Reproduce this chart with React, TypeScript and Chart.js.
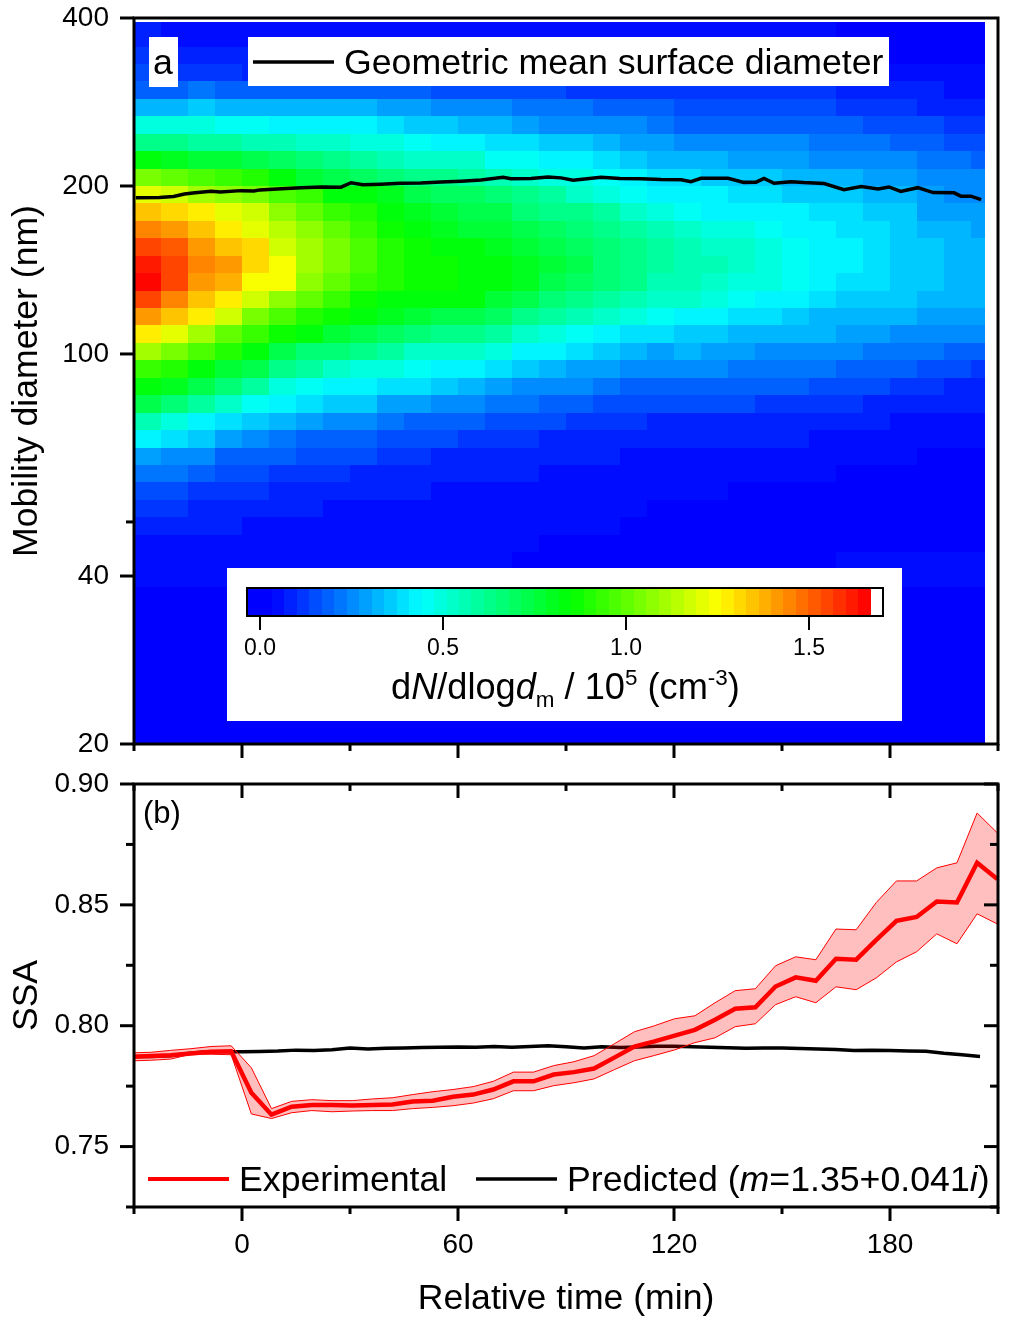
import React, { useEffect, useRef } from "react";
import { Chart, registerables } from "chart.js";

Chart.register(...registerables);

const FONT = "'Liberation Sans', Arial, sans-serif";

// ---------- panel a: size distribution ----------
const timeEdges = [-30, -22.5, -15, -7.5, 0, 7.5, 15, 22.5, 30, 37.5, 45, 52.5, 60, 67.5, 75, 82.5, 90, 97.5, 105, 112.5, 120, 127.5, 135, 142.5, 150, 157.5, 165, 172.5, 180, 187.5, 195, 202.5, 206.4];
const diameterEdges = [394, 355.6, 331, 308, 286.6, 266.7, 248.2, 231, 214.9, 200, 186.2, 173.2, 161.2, 150, 139.6, 129.9, 120.9, 112.5, 104.7, 97.4, 90.64, 84.35, 78.49, 73.04, 67.97, 63.25, 58.86, 54.77, 50.97, 47.43, 44.14, 41.07, 38.22, 35.57, 33.1, 30.8, 28.66, 26.67, 24.82, 23.1, 21.49, 20];
// dN/dlogdm in units of 10^3 cm^-3, rows from the largest diameter down
const heatRows = [
  [7,6,5,5,5,5,5,5,5,5,5,5,5,5,5,4,4,4,4,4,4,4,4,4,4,4,3,3,3,3,3,3],
  [12,10,9,8,7,7,6,6,6,6,6,6,6,5,5,5,5,5,5,5,5,5,5,5,4,4,4,3,3,3,3,3],
  [15,13,12,11,10,10,9,10,9,9,9,9,9,9,9,8,8,8,8,8,7,7,7,7,7,7,6,6,5,5,4,4],
  [19,20,21,20,19,19,18,17,17,17,17,16,15,15,14,14,13,13,13,13,12,12,12,12,11,11,10,9,8,7,6,6],
  [32,33,34,33,33,33,32,32,31,30,28,26,25,24,23,22,21,20,18,17,16,15,15,15,14,14,13,12,11,10,9,9],
  [50,49,48,46,45,44,43,42,42,40,37,35,32,31,29,27,26,25,24,22,20,20,19,19,18,18,17,16,15,14,13,13],
  [62,62,60,58,57,55,52,51,50,48,45,44,42,40,38,36,34,33,30,28,27,26,25,24,24,23,22,21,20,18,16,15],
  [82,80,78,75,72,69,65,62,60,57,54,53,51,47,45,43,42,40,36,33,32,31,30,29,28,27,26,26,24,22,21,20],
  [104,102,98,94,90,84,78,73,70,67,64,63,60,57,54,50,48,46,42,40,38,36,35,34,33,32,31,30,28,26,25,24],
  [122,118,112,108,104,98,92,85,82,79,74,71,69,66,62,58,54,50,47,44,42,41,40,39,37,36,35,33,31,28,27,26],
  [136,130,126,122,116,108,100,94,90,85,80,76,74,72,68,64,62,58,54,50,46,44,44,43,41,40,38,36,34,30,29,28],
  [145,140,136,128,122,114,106,100,94,88,84,80,78,76,74,70,66,63,60,56,52,50,48,46,44,42,40,38,36,32,31,30],
  [155,150,140,134,130,118,110,105,96,90,86,84,82,80,78,74,70,66,62,58,55,54,52,48,45,43,41,39,37,34,32,31],
  [162,155,146,140,132,124,112,104,96,90,88,86,85,82,80,76,72,68,64,59,56,56,54,50,47,44,41,39,36,35,32,32],
  [164,156,142,138,125,124,108,100,94,90,88,86,84,82,80,74,70,66,62,56,55,54,50,48,46,42,39,38,36,35,33,33],
  [155,146,136,128,118,108,100,94,88,84,84,84,83,78,74,68,64,60,56,52,52,50,46,44,41,39,36,36,35,33,33,31],
  [140,135,128,118,105,98,90,86,82,80,78,74,72,70,64,60,56,52,48,45,44,42,39,38,36,33,33,31,31,30,28,28],
  [126,120,112,102,95,88,82,78,74,70,68,64,62,58,54,50,46,42,40,38,36,35,33,32,31,31,30,28,27,26,25,24],
  [112,105,98,90,82,74,68,66,62,58,54,52,52,48,44,42,38,36,32,30,31,30,28,27,26,26,24,23,22,21,20,19],
  [95,90,84,78,72,64,58,54,50,48,46,44,42,38,36,32,28,28,27,26,25,26,22,22,22,21,20,18,17,16,14,13],
  [85,80,72,66,58,50,46,44,42,40,38,36,33,30,27,25,24,22,20,19,20,19,19,18,17,16,15,14,13,12,10,9],
  [72,66,58,52,46,42,38,36,34,30,28,26,24,22,21,19,17,16,15,14,14,14,14,13,13,12,11,10,9,9,8,7],
  [56,48,44,40,34,32,28,26,24,22,20,18,17,16,15,14,13,12,11,10,10,10,10,9,9,8,7,7,6,6,5,5],
  [43,38,34,28,24,22,20,19,18,16,15,14,12,12,11,10,9,9,8,8,7,7,7,7,7,6,6,5,5,4,4,4],
  [30,27,24,20,19,18,16,14,14,12,11,10,9,9,9,8,7,7,6,6,6,6,6,5,5,4,4,4,4,3,3,3],
  [22,21,18,16,14,13,12,11,10,10,9,8,7,7,7,6,6,6,5,5,5,4,4,4,4,4,3,3,3,3,3,3],
  [16,15,13,11,11,10,9,9,8,7,7,6,6,5,5,5,5,4,4,4,4,4,3,3,3,3,3,3,3,3,3,3],
  [12,11,10,9,8,7,7,6,6,6,5,5,5,5,4,4,4,4,4,3,3,3,3,3,3,3,3,3,3,3,3,3],
  [8,8,7,7,6,6,5,5,5,5,4,4,4,4,4,4,4,4,3,3,3,3,3,3,3,3,3,3,3,3,3,3],
  [6,6,6,5,5,5,4,4,4,4,4,4,4,4,4,3,3,3,3,3,3,3,3,3,3,3,3,3,3,3,3,3],
  [5,5,4,4,4,4,4,4,4,4,4,4,4,4,3,3,3,3,3,3,3,3,3,3,3,3,4,4,5,5,5,5],
  [4,4,4,4,4,4,4,4,4,4,4,4,4,4,3,3,3,3,3,3,3,3,3,3,3,3,3,3,4,4,4,4],
  [3,3,3,3,3,3,3,3,3,3,3,3,3,3,3,3,3,3,3,3,3,3,3,3,3,3,3,3,3,3,3,3],
  [3,3,3,3,3,3,3,3,3,3,3,3,3,3,3,3,3,3,3,3,3,3,3,3,3,3,3,3,3,3,3,3],
  [3,3,3,3,3,3,3,3,3,3,3,3,3,3,3,3,3,3,3,3,3,3,3,3,3,3,3,3,3,3,3,3],
  [3,3,3,3,3,3,3,3,3,3,3,3,3,3,3,3,3,3,3,3,3,3,3,3,3,3,3,3,3,3,3,3],
  [3,3,3,3,3,3,3,3,3,3,3,3,3,3,3,3,3,3,3,3,3,3,3,3,3,3,3,3,3,3,3,3],
  [3,3,3,3,3,3,3,3,3,3,3,3,3,3,3,3,3,3,3,3,3,3,3,3,3,3,3,3,3,3,3,3],
  [3,3,3,3,3,3,3,3,3,3,3,3,3,3,3,3,3,3,3,3,3,3,3,3,3,3,3,3,3,3,3,3],
  [3,3,3,3,3,3,3,3,3,3,3,3,3,3,3,3,3,3,3,3,3,3,3,3,3,3,3,3,3,3,3,3],
  [3,3,3,3,3,3,3,3,3,3,3,3,3,3,3,3,3,3,3,3,3,3,3,3,3,3,3,3,3,3,3,3],
];

const gmdTime = [-29.5, -23, -19, -16, -13, -8.6, -6, -0.3, 3.3, 5, 11, 16.4, 22, 27.5, 30.3, 33.6, 38.6, 44, 49.7, 55.3, 60.8, 66.4, 72.5, 74.7, 80.3, 85, 88.6, 92, 99.7, 105, 110.8, 116.4, 122, 124.7, 127.5, 135, 139.4, 142.8, 145, 147.8, 152.5, 156, 161.7, 167.2, 172, 176.7, 179.7, 183, 187.7, 192, 197.8, 199.7, 202.5, 205.3];
const gmdDiameter = [190.5, 190.8, 191.5, 193.5, 194.5, 195.7, 195, 196.2, 196, 196.8, 197.8, 198.6, 199.2, 199, 202.7, 201, 201.5, 202.2, 202.5, 203.3, 204, 205, 207.4, 206, 206.3, 207.6, 206.8, 204.8, 207.4, 206.2, 206, 205.4, 205.2, 203.6, 206.5, 206.4, 203, 203.2, 206.4, 202.2, 203.6, 202.8, 202, 197, 199.6, 197.6, 199.2, 195.6, 198.6, 194.6, 194.4, 191.8, 191.8, 189];

const diameterTicks = [400, 200, 100, 50, 40, 20];
const diameterMinorTicks = [50];
const timeTicks = [-30, 0, 30, 60, 90, 120, 150, 180, 210];
const timeLabels = [0, 60, 120, 180];

const colorbarTicks = [0, 0.5, 1, 1.5];
const colorStopValues = [0.03, 0.44, 0.85, 1.25, 1.66];
const colorStopRgb = [[0, 0, 255], [0, 255, 255], [0, 255, 0], [255, 255, 0], [255, 0, 0]];

// ---------- panel b: SSA ----------
const expTime = [-30, -25.4, -19.8, -14.2, -8.6, -3, 2.6, 8.2, 13.8, 19.4, 25, 30.6, 36.2, 41.8, 47.4, 53, 58.6, 64.2, 69.8, 75.4, 81, 86.6, 92.2, 97.8, 103.4, 109, 114.6, 120.2, 125.8, 131.4, 137, 142.6, 148.2, 153.8, 159.4, 165, 170.6, 176.2, 181.8, 187.4, 193, 198.6, 204.2, 209.8];
const expMean = [0.7872, 0.7875, 0.7878, 0.7885, 0.7892, 0.7894, 0.7723, 0.7632, 0.7665, 0.7672, 0.7672, 0.767, 0.7672, 0.7674, 0.7686, 0.769, 0.7706, 0.7715, 0.7736, 0.777, 0.777, 0.7798, 0.7808, 0.7823, 0.7868, 0.7914, 0.7935, 0.7959, 0.7983, 0.8025, 0.807, 0.8076, 0.8162, 0.82, 0.8186, 0.8277, 0.8273, 0.8355, 0.8434, 0.845, 0.8514, 0.851, 0.8674, 0.8607];
const expUpper = [0.7888, 0.789, 0.7898, 0.7905, 0.7914, 0.7917, 0.7826, 0.7657, 0.7687, 0.7694, 0.769, 0.769, 0.7697, 0.7702, 0.7715, 0.7727, 0.7736, 0.7748, 0.777, 0.7808, 0.7808, 0.7835, 0.7851, 0.7876, 0.7925, 0.7975, 0.8, 0.8029, 0.8041, 0.8095, 0.8145, 0.8153, 0.8248, 0.8285, 0.8273, 0.84, 0.8397, 0.851, 0.8599, 0.8599, 0.8653, 0.8674, 0.888, 0.8798];
const expLower = [0.7855, 0.7857, 0.7862, 0.7882, 0.7882, 0.788, 0.7635, 0.7616, 0.764, 0.7649, 0.7644, 0.7647, 0.7649, 0.7649, 0.7657, 0.7662, 0.7669, 0.768, 0.7698, 0.7731, 0.7731, 0.7752, 0.7764, 0.778, 0.7818, 0.7855, 0.7877, 0.79, 0.793, 0.795, 0.7996, 0.8008, 0.8087, 0.812, 0.8095, 0.8161, 0.8149, 0.8198, 0.8264, 0.8306, 0.838, 0.8339, 0.8463, 0.8421];

const predTime = [-30, -25, -20, -15, -10, -5, 0, 5, 10, 15, 20, 25, 30, 35, 40, 45, 50, 55, 60, 65, 70, 75, 80, 85, 90, 95, 100, 105, 110, 115, 120, 125, 130, 135, 140, 145, 150, 155, 160, 165, 170, 175, 180, 185, 190, 195, 200, 205];
const predSSA = [0.7873, 0.7873, 0.7876, 0.7885, 0.7892, 0.7892, 0.7892, 0.7893, 0.7895, 0.7899, 0.7897, 0.7901, 0.7908, 0.7904, 0.7907, 0.7908, 0.791, 0.7911, 0.7912, 0.7911, 0.7914, 0.7911, 0.7914, 0.7917, 0.7913, 0.7908, 0.7913, 0.791, 0.7912, 0.7915, 0.7915, 0.7913, 0.7911, 0.7909, 0.7907, 0.7908, 0.7908, 0.7906, 0.7904, 0.7902, 0.7897, 0.7898, 0.7897, 0.7895, 0.7894, 0.7886, 0.788, 0.7873];

const ssaTicks = [0.9, 0.875, 0.85, 0.825, 0.8, 0.775, 0.75, 0.725];
const ssaLabels = [0.9, 0.85, 0.8, 0.75];

// ---------- helpers ----------
const LEVEL_START = -0.036;
const LEVEL_WIDTH = 0.0341;
const LEVEL_COUNT = 50;

function rampColor(v: number) {
  const s = colorStopValues;
  if (v <= s[0]) return `rgb(${colorStopRgb[0].join(",")})`;
  for (let i = 1; i < s.length; i++) {
    if (v <= s[i]) {
      const f = (v - s[i - 1]) / (s[i] - s[i - 1]);
      const a = colorStopRgb[i - 1];
      const b = colorStopRgb[i];
      return `rgb(${a.map((c, k) => Math.round(c + (b[k] - c) * f)).join(",")})`;
    }
  }
  return "rgb(255,0,0)";
}
function levelColor(v: number) {
  const k = Math.max(0, Math.min(LEVEL_COUNT - 1, Math.floor((v - LEVEL_START) / LEVEL_WIDTH)));
  return rampColor(LEVEL_START + (k + 0.5) * LEVEL_WIDTH);
}

type Run = { t: string; i?: boolean; s?: number; dy?: number };
function drawRuns(ctx: CanvasRenderingContext2D, x: number, y: number, size: number, runs: Run[]) {
  ctx.textAlign = "left";
  ctx.textBaseline = "alphabetic";
  ctx.fillStyle = "#000";
  for (const r of runs) {
    const sz = size * (r.s ?? 1);
    ctx.font = `${r.i ? "italic " : ""}${sz}px ${FONT}`;
    ctx.fillText(r.t, x, y + (r.dy ?? 0));
    x += ctx.measureText(r.t).width;
  }
}

function tickLine(ctx: CanvasRenderingContext2D, x1: number, y1: number, x2: number, y2: number, w = 3) {
  ctx.lineWidth = w;
  ctx.beginPath();
  ctx.moveTo(x1, y1);
  ctx.lineTo(x2, y2);
  ctx.stroke();
}

function frame(chart: any) {
  const { ctx, chartArea: a } = chart;
  ctx.save();
  ctx.strokeStyle = "#000";
  ctx.lineWidth = 3;
  ctx.lineJoin = "miter";
  ctx.strokeRect(a.left, a.top, a.right - a.left, a.bottom - a.top);
  ctx.restore();
}

const heatmapPlugin = {
  id: "heatmap",
  beforeDatasetsDraw(chart: any) {
    const { ctx, scales } = chart;
    heatRows.forEach((row, r) => {
      const yTop = Math.round(scales.y.getPixelForValue(diameterEdges[r]));
      const yBot = Math.round(scales.y.getPixelForValue(diameterEdges[r + 1]));
      row.forEach((v, c) => {
        const xL = Math.round(scales.x.getPixelForValue(timeEdges[c]));
        const xR = Math.round(scales.x.getPixelForValue(timeEdges[c + 1]));
        ctx.fillStyle = levelColor(v / 100);
        ctx.fillRect(xL, yTop, xR - xL, yBot - yTop);
      });
    });
  },
};

const panelAOverlay = {
  id: "panelAOverlay",
  afterDatasetsDraw(chart: any) {
    const { ctx, scales } = chart;
    ctx.save();
    ctx.fillStyle = "#fff";
    ctx.fillRect(149, 37, 29, 50);
    ctx.fillRect(248, 37, 641, 49);
    drawRuns(ctx, 153, 74, 35.7, [{ t: "a" }]);
    ctx.strokeStyle = "#000";
    tickLine(ctx, 253, 62, 334, 62, 3.5);
    drawRuns(ctx, 344, 74, 35.7, [{ t: "Geometric mean surface diameter" }]);

    // colour scale
    ctx.fillStyle = "#fff";
    ctx.fillRect(227, 568, 675, 153);
    const cx = (v: number) => 260 + v * 366;
    for (let k = 0; k < LEVEL_COUNT; k++) {
      const v0 = LEVEL_START + k * LEVEL_WIDTH;
      ctx.fillStyle = levelColor(v0 + LEVEL_WIDTH / 2);
      const xL = Math.round(cx(v0));
      ctx.fillRect(xL, 588, Math.round(cx(v0 + LEVEL_WIDTH)) - xL, 28);
    }
    ctx.strokeStyle = "#000";
    ctx.lineWidth = 2;
    ctx.strokeRect(247, 588, 636, 28);
    colorbarTicks.forEach((v) => {
      tickLine(ctx, cx(v), 616, cx(v), 630, 2);
      ctx.font = `23px ${FONT}`;
      ctx.fillStyle = "#000";
      ctx.textAlign = "center";
      ctx.textBaseline = "alphabetic";
      ctx.fillText(v.toFixed(1), cx(v), 655);
    });
    drawRuns(ctx, 391, 699, 36.2, [
      { t: "d" }, { t: "N", i: true }, { t: "/dlog" }, { t: "d", i: true },
      { t: "m", s: 0.62, dy: 8 }, { t: " / 10" }, { t: "5", s: 0.62, dy: -14 },
      { t: " (cm" }, { t: "-3", s: 0.62, dy: -14 }, { t: ")" },
    ]);

    // axis ticks
    ctx.strokeStyle = "#000";
    const a = chart.chartArea;
    diameterTicks.forEach((d) => {
      const y = scales.y.getPixelForValue(d);
      const minor = diameterMinorTicks.includes(d);
      tickLine(ctx, a.left - (minor ? 8 : 14), y, a.left, y);
    });
    timeTicks.forEach((t) => {
      const x = scales.x.getPixelForValue(t);
      const major = timeLabels.includes(t);
      tickLine(ctx, x, a.bottom, x, a.bottom + (major ? 14 : 7));
    });
    ctx.restore();
    frame(chart);
  },
};

const panelBOverlay = {
  id: "panelBOverlay",
  afterDatasetsDraw(chart: any) {
    const { ctx, scales, chartArea: a } = chart;
    const top = a.top;
    ctx.save();
    drawRuns(ctx, 143, top + 39, 31, [{ t: "(b)" }]);
    ctx.strokeStyle = "#f00";
    tickLine(ctx, 148, top + 395, 229, top + 395, 4);
    drawRuns(ctx, 239, top + 407, 35.7, [{ t: "Experimental" }]);
    ctx.strokeStyle = "#000";
    tickLine(ctx, 476, top + 395, 557, top + 395, 3.5);
    drawRuns(ctx, 567, top + 407, 35.7, [
      { t: "Predicted (" }, { t: "m", i: true }, { t: "=1.35+0.041" }, { t: "i", i: true }, { t: ")" },
    ]);
    ssaTicks.forEach((v) => {
      const y = scales.y.getPixelForValue(v);
      const major = ssaLabels.includes(v);
      const len = major ? 14 : 8;
      tickLine(ctx, a.left - len, y, a.left, y);
      tickLine(ctx, a.right - len, y, a.right, y);
    });
    timeTicks.forEach((t) => {
      const x = scales.x.getPixelForValue(t);
      const major = timeLabels.includes(t);
      const len = major ? 14 : 7;
      tickLine(ctx, x, a.bottom, x, a.bottom + len);
      tickLine(ctx, x, a.top, x, a.top + len);
    });
    ctx.restore();
    frame(chart);
  },
};

const pts = (xs: number[], ys: number[]) => xs.map((x, i) => ({ x, y: ys[i] }));
const setTicks = (vals: number[]) => (s: any) => {
  s.ticks = vals.map((value) => ({ value }));
};
const fixFit = (w: number | null, h: number | null) => (s: any) => {
  if (w !== null) s.width = w;
  if (h !== null) s.height = h;
  s.paddingTop = 0;
  s.paddingBottom = 0;
  s.paddingLeft = 0;
  s.paddingRight = 0;
};

export default function App() {
  const refA = useRef<HTMLCanvasElement>(null);
  const refB = useRef<HTMLCanvasElement>(null);

  useEffect(() => {
    const tickFont = { family: FONT, size: 28 };
    const titleFont = { family: FONT, size: 35.6 };
    const chartA = new Chart(refA.current!, {
      type: "scatter",
      data: {
        datasets: [
          {
            label: "Geometric mean surface diameter",
            data: pts(gmdTime, gmdDiameter),
            showLine: true,
            borderColor: "#000",
            borderWidth: 3.5,
            pointRadius: 0,
            tension: 0,
          },
        ],
      },
      options: {
        animation: false,
        responsive: false,
        devicePixelRatio: 1,
        layout: { padding: { top: 18, right: 14, left: 0, bottom: 0 } },
        plugins: { legend: { display: false }, tooltip: { enabled: false } },
        scales: {
          x: {
            type: "linear",
            min: -30,
            max: 210,
            grid: { display: false, drawTicks: false },
            border: { display: false },
            ticks: { display: false },
            afterBuildTicks: setTicks(timeTicks),
            afterFit: fixFit(null, 18),
          },
          y: {
            type: "logarithmic",
            min: 20,
            max: 400,
            grid: { display: false, drawTicks: false },
            border: { display: false },
            afterBuildTicks: setTicks(diameterTicks),
            afterFit: fixFit(134, null),
            ticks: {
              autoSkip: false,
              font: tickFont,
              color: "#000",
              padding: 25,
              callback: (v: any) => (diameterMinorTicks.includes(Number(v)) ? "" : String(v)),
            },
            title: {
              display: true,
              text: "Mobility diameter (nm)",
              font: titleFont,
              color: "#000",
              padding: { top: 6, bottom: 0 },
            },
          },
        },
      } as any,
      plugins: [heatmapPlugin, panelAOverlay],
    });

    const chartB = new Chart(refB.current!, {
      type: "scatter",
      data: {
        datasets: [
          {
            label: "Experimental",
            data: pts(expTime, expMean),
            showLine: true,
            borderColor: "#f00",
            borderWidth: 4.5,
            pointRadius: 0,
            tension: 0,
          },
          {
            label: "Upper",
            data: pts(expTime, expUpper),
            showLine: true,
            borderColor: "#f00",
            borderWidth: 1,
            pointRadius: 0,
            tension: 0,
            fill: "+1",
            backgroundColor: "rgba(255,0,0,0.25)",
          },
          {
            label: "Lower",
            data: pts(expTime, expLower),
            showLine: true,
            borderColor: "#f00",
            borderWidth: 1,
            pointRadius: 0,
            tension: 0,
          },
          {
            label: "Predicted (m=1.35+0.041i)",
            data: pts(predTime, predSSA),
            showLine: true,
            borderColor: "#000",
            borderWidth: 3.5,
            pointRadius: 0,
            tension: 0,
          },
        ],
      },
      options: {
        animation: false,
        responsive: false,
        devicePixelRatio: 1,
        layout: { padding: { top: 22, right: 14, left: 0, bottom: 0 } },
        plugins: { legend: { display: false }, tooltip: { enabled: false }, filler: { drawTime: "beforeDatasetDraw" } },
        scales: {
          x: {
            type: "linear",
            min: -30,
            max: 210,
            grid: { display: false, drawTicks: false },
            border: { display: false },
            afterBuildTicks: setTicks(timeTicks),
            afterFit: fixFit(null, 115),
            ticks: {
              autoSkip: false,
              maxRotation: 0,
              font: tickFont,
              color: "#000",
              padding: 21,
              callback: (v: any) => (timeLabels.includes(Number(v)) ? String(v) : ""),
            },
            title: {
              display: true,
              text: "Relative time (min)",
              font: titleFont,
              color: "#000",
              padding: { top: 0, bottom: 1 },
            },
          },
          y: {
            type: "linear",
            min: 0.725,
            max: 0.9,
            grid: { display: false, drawTicks: false },
            border: { display: false },
            afterBuildTicks: setTicks(ssaTicks),
            afterFit: fixFit(134, null),
            ticks: {
              autoSkip: false,
              font: tickFont,
              color: "#000",
              padding: 25,
              callback: (v: any) => (ssaLabels.includes(Number(v)) ? Number(v).toFixed(2) : ""),
            },
            title: {
              display: true,
              text: "SSA",
              font: titleFont,
              color: "#000",
              padding: { top: 6, bottom: 0 },
            },
          },
        },
      } as any,
      plugins: [panelBOverlay],
    });

    return () => {
      chartA.destroy();
      chartB.destroy();
    };
  }, []);

  return (
    <div style={{ position: "absolute", left: 0, top: 0, width: 1012, height: 1322, background: "#fff" }}>
      <canvas ref={refA} width={1012} height={762} style={{ position: "absolute", left: 0, top: 0, width: 1012, height: 762 }} />
      <canvas ref={refB} width={1012} height={560} style={{ position: "absolute", left: 0, top: 762, width: 1012, height: 560 }} />
    </div>
  );
}
